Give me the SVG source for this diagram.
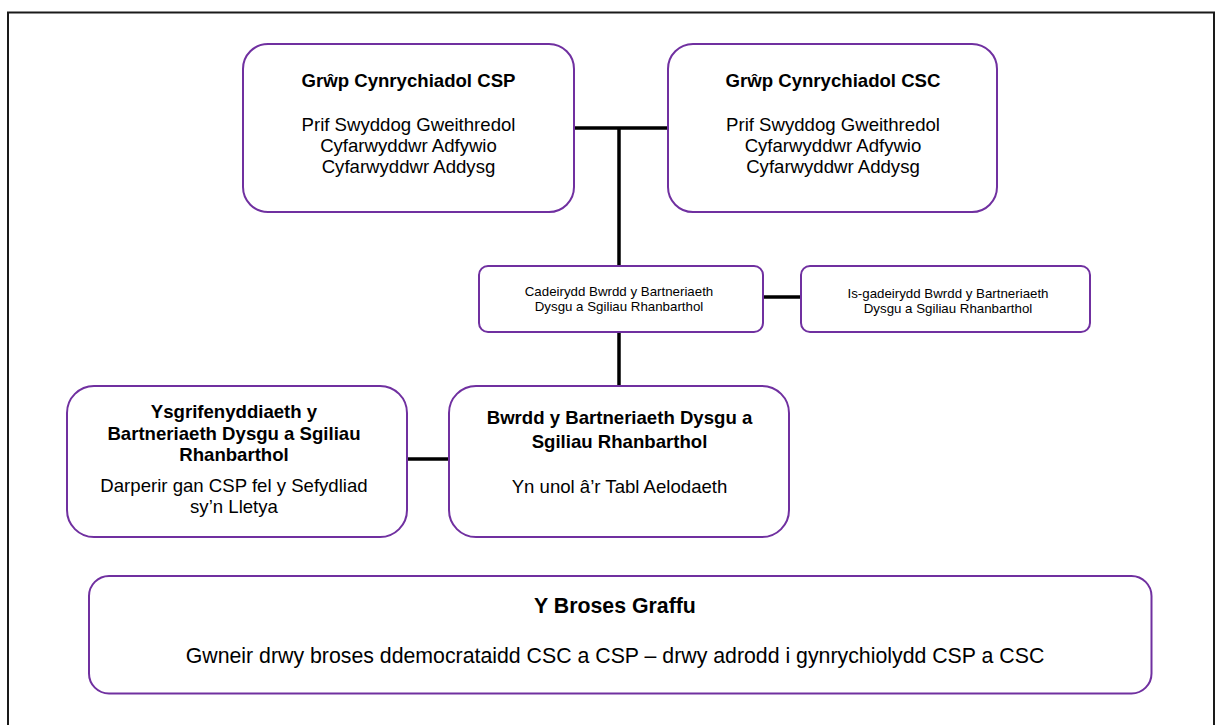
<svg xmlns="http://www.w3.org/2000/svg" width="1217" height="725" viewBox="0 0 1217 725">
<style>
  .box { fill: #ffffff; stroke: #7030A0; stroke-width: 2; }
  .t { font-family: "Liberation Sans", Arial, sans-serif; fill: #000000; text-anchor: middle; }
  .h { font-weight: bold; font-size: 18.6px; }
  .b { font-size: 18.6px; }
  .s { font-size: 13.3px; }
  .hb { font-weight: bold; font-size: 21.3px; }
  .bb { font-size: 21.3px; }
  .conn { stroke: #000000; stroke-width: 3.5; fill: none; }
</style>
<rect x="0" y="0" width="1217" height="725" fill="#ffffff"/>
<rect x="8" y="12.5" width="1206" height="716" fill="none" stroke="#1a1a1a" stroke-width="2"/>

<g id="connectors">
  <line class="conn" x1="574" y1="128" x2="668" y2="128"/>
  <line class="conn" x1="619" y1="128" x2="619" y2="266"/>
  <line class="conn" x1="763" y1="297" x2="801" y2="297"/>
  <line class="conn" x1="619" y1="332" x2="619" y2="386"/>
  <line class="conn" x1="407" y1="459" x2="449" y2="459"/>
</g>

<g id="csp">
  <rect class="box" x="243" y="44" width="331" height="168" rx="25" ry="25"/>
  <text class="t h" x="408.5" y="87">Grŵp Cynrychiadol CSP</text>
  <text class="t b" x="408.5" y="131">Prif Swyddog Gweithredol</text>
  <text class="t b" x="408.5" y="152">Cyfarwyddwr Adfywio</text>
  <text class="t b" x="408.5" y="173">Cyfarwyddwr Addysg</text>
</g>

<g id="csc">
  <rect class="box" x="668" y="44" width="329" height="168" rx="25" ry="25"/>
  <text class="t h" x="833" y="87">Grŵp Cynrychiadol CSC</text>
  <text class="t b" x="833" y="131">Prif Swyddog Gweithredol</text>
  <text class="t b" x="833" y="152">Cyfarwyddwr Adfywio</text>
  <text class="t b" x="833" y="173">Cyfarwyddwr Addysg</text>
</g>

<g id="chair">
  <rect class="box" x="479" y="266" width="284" height="66" rx="9" ry="9"/>
  <text class="t s" x="619" y="296">Cadeirydd Bwrdd y Bartneriaeth</text>
  <text class="t s" x="619" y="310.5">Dysgu a Sgiliau Rhanbarthol</text>
</g>

<g id="vicechair">
  <rect class="box" x="801" y="266" width="289" height="66" rx="9" ry="9"/>
  <text class="t s" x="948" y="298">Is-gadeirydd Bwrdd y Bartneriaeth</text>
  <text class="t s" x="948" y="312.5">Dysgu a Sgiliau Rhanbarthol</text>
</g>

<g id="secretariat">
  <rect class="box" x="67" y="386" width="340" height="151" rx="27" ry="27"/>
  <text class="t h" x="234" y="418">Ysgrifenyddiaeth y</text>
  <text class="t h" x="234" y="439.5">Bartneriaeth Dysgu a Sgiliau</text>
  <text class="t h" x="234" y="461">Rhanbarthol</text>
  <text class="t b" x="234" y="492">Darperir gan CSP fel y Sefydliad</text>
  <text class="t b" x="234" y="513">sy’n Lletya</text>
</g>

<g id="board">
  <rect class="box" x="449" y="386" width="340" height="151" rx="27" ry="27"/>
  <text class="t h" x="619.5" y="424">Bwrdd y Bartneriaeth Dysgu a</text>
  <text class="t h" x="619.5" y="448">Sgiliau Rhanbarthol</text>
  <text class="t b" x="619.5" y="493">Yn unol â’r Tabl Aelodaeth</text>
</g>

<g id="scrutiny">
  <rect class="box" x="89" y="576" width="1062.5" height="117.5" rx="20" ry="20"/>
  <text class="t hb" x="615" y="613">Y Broses Graffu</text>
  <text class="t bb" x="615" y="663">Gwneir drwy broses ddemocrataidd CSC a CSP – drwy adrodd i gynrychiolydd CSP a CSC</text>
</g>
</svg>
